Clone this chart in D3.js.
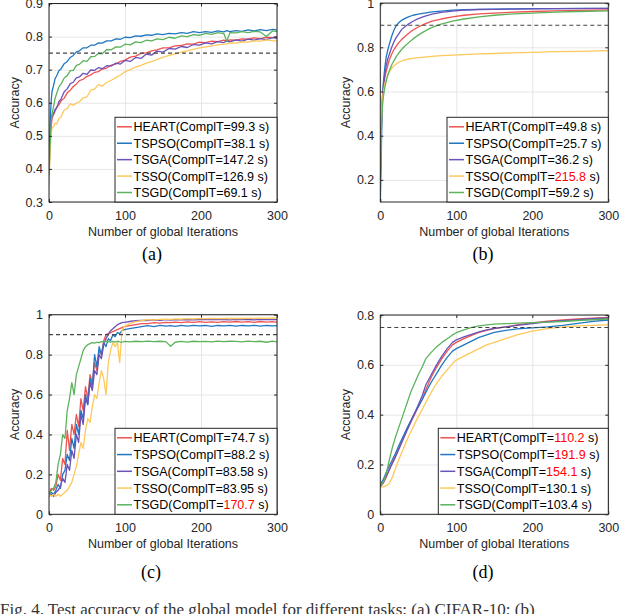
<!DOCTYPE html>
<html lang="en">
<head>
<meta charset="utf-8">
<title>Accuracy vs global iterations</title>
<script src="https://cdn.jsdelivr.net/npm/d3@7"></script>
<style>
  * { margin: 0; padding: 0; }
  body { background: #fff; }
  svg { display: block; }
  text { font-family: "Liberation Sans", Arial, Helvetica, sans-serif; }
  .serif { font-family: "Liberation Serif", "Times New Roman", serif; }
</style>
</head>
<body>
<div id="chart"></div>
<script>
// ---- data ----
var methods = ["HEART", "TSPSO", "TSGA", "TSSO", "TSGD"];
var colors = ["#ef5350", "#2277c2", "#6a52b8", "#fec85a", "#5cb35c"];

// panel (a)
var iterA = [0,1,2,3,4,6,8,10,13,16,20,24,28,32,36,40,45,50,55,60,65,70,76,82,88,94,100,107,114,121,128,135,142,150,158,166,174,182,190,198,206,214,222,230,234,238,246,254,262,270,278,286,294,300];
var heartA = [0.38,0.45,0.50,0.53,0.552,0.564,0.574,0.587,0.593,0.606,0.614,0.630,0.638,0.649,0.657,0.667,0.671,0.680,0.684,0.692,0.694,0.702,0.705,0.714,0.717,0.725,0.729,0.738,0.741,0.749,0.751,0.757,0.760,0.766,0.766,0.772,0.773,0.778,0.777,0.783,0.782,0.786,0.785,0.789,0.787,0.790,0.789,0.793,0.792,0.796,0.794,0.798,0.797,0.800];
var tspsoA = [0.36,0.50,0.57,0.61,0.634,0.652,0.673,0.681,0.697,0.703,0.718,0.725,0.737,0.743,0.754,0.757,0.766,0.766,0.774,0.774,0.781,0.780,0.787,0.787,0.793,0.792,0.798,0.797,0.802,0.801,0.805,0.804,0.808,0.806,0.810,0.808,0.812,0.810,0.815,0.812,0.815,0.813,0.817,0.814,0.818,0.815,0.818,0.816,0.820,0.817,0.821,0.818,0.822,0.820];
var tsgaA = [0.40,0.47,0.52,0.55,0.562,0.568,0.580,0.583,0.603,0.612,0.633,0.642,0.658,0.662,0.675,0.678,0.689,0.686,0.699,0.698,0.706,0.703,0.712,0.711,0.720,0.717,0.728,0.725,0.737,0.734,0.747,0.744,0.756,0.753,0.764,0.762,0.770,0.767,0.776,0.774,0.781,0.778,0.785,0.782,0.787,0.784,0.790,0.786,0.792,0.789,0.794,0.791,0.797,0.795];
var tssoA = [0.345,0.42,0.48,0.51,0.524,0.528,0.538,0.536,0.552,0.558,0.578,0.582,0.597,0.592,0.599,0.603,0.615,0.618,0.638,0.641,0.655,0.650,0.662,0.668,0.676,0.684,0.694,0.700,0.708,0.713,0.720,0.724,0.731,0.737,0.743,0.748,0.753,0.757,0.761,0.766,0.769,0.772,0.775,0.777,0.778,0.781,0.780,0.784,0.783,0.787,0.786,0.790,0.788,0.786];
var tsgdA = [0.38,0.45,0.50,0.54,0.568,0.588,0.613,0.627,0.648,0.657,0.675,0.682,0.697,0.698,0.713,0.716,0.727,0.725,0.739,0.740,0.749,0.748,0.761,0.760,0.769,0.768,0.777,0.775,0.784,0.782,0.789,0.787,0.793,0.791,0.798,0.795,0.802,0.800,0.806,0.804,0.810,0.807,0.812,0.809,0.786,0.812,0.811,0.815,0.812,0.816,0.814,0.800,0.817,0.815];
var timesA = ["99.3", "38.1", "147.2", "126.9", "69.1"];
var hotA = [false, false, false, false, false];
var yTicksA = [0.3, 0.4, 0.5, 0.6, 0.7, 0.8, 0.9];

// panel (b)
var iterB = [0,1,2,3,4,6,8,10,12,15,18,21,24,28,32,37,43,50,58,68,80,95,110,130,150,175,200,230,260,300];
var heartB = [0.28,0.42,0.52,0.58,0.615,0.665,0.695,0.72,0.745,0.77,0.79,0.805,0.82,0.835,0.848,0.862,0.878,0.892,0.905,0.918,0.928,0.938,0.945,0.951,0.955,0.959,0.962,0.965,0.967,0.969];
var tspsoB = [0.10,0.25,0.45,0.58,0.64,0.71,0.76,0.79,0.815,0.85,0.878,0.898,0.91,0.922,0.93,0.938,0.945,0.95,0.955,0.96,0.964,0.968,0.97,0.972,0.973,0.974,0.975,0.975,0.976,0.976];
var tsgaB = [0.20,0.38,0.50,0.58,0.62,0.68,0.72,0.75,0.77,0.80,0.825,0.845,0.86,0.88,0.892,0.905,0.918,0.93,0.94,0.95,0.958,0.964,0.968,0.971,0.972,0.973,0.974,0.975,0.975,0.976];
var tssoB = [0.25,0.42,0.52,0.57,0.60,0.635,0.66,0.678,0.69,0.705,0.716,0.725,0.732,0.738,0.743,0.747,0.75,0.753,0.756,0.759,0.762,0.765,0.767,0.77,0.772,0.775,0.777,0.78,0.782,0.785];
var tsgdB = [0.22,0.38,0.48,0.54,0.575,0.62,0.65,0.675,0.695,0.72,0.74,0.758,0.772,0.79,0.805,0.82,0.838,0.855,0.872,0.89,0.905,0.918,0.928,0.938,0.945,0.951,0.955,0.959,0.962,0.965];
var timesB = ["49.8", "25.7", "36.2", "215.8", "59.2"];
var hotB = [false, false, false, true, false];
var yTicksB = [0.2, 0.4, 0.6, 0.8, 1];

// panel (c)
var iterC = [0,3,6,9,12,15,18,21,24,27,30,33,36,39,42,45,48,51,54,57,60,63,66,69,72,75,78,81,84,87,90,93,96,99,106,114,122,130,138,146,154,160,166,174,182,190,198,206,214,222,230,238,246,254,262,270,278,286,294,300];
var heartC = [0.10,0.13,0.12,0.14,0.20,0.17,0.28,0.25,0.42,0.32,0.45,0.40,0.50,0.44,0.58,0.52,0.64,0.58,0.70,0.66,0.76,0.72,0.82,0.80,0.87,0.90,0.905,0.91,0.915,0.92,0.925,0.93,0.935,0.94,0.945,0.95,0.955,0.955,0.96,0.958,0.962,0.96,0.963,0.96,0.964,0.962,0.965,0.962,0.964,0.962,0.965,0.963,0.966,0.963,0.965,0.962,0.966,0.963,0.965,0.962];
var tspsoC = [0.10,0.11,0.10,0.12,0.15,0.13,0.20,0.22,0.30,0.27,0.38,0.33,0.45,0.40,0.52,0.48,0.60,0.55,0.68,0.64,0.80,0.74,0.84,0.80,0.86,0.84,0.88,0.87,0.90,0.89,0.91,0.905,0.92,0.925,0.93,0.935,0.94,0.945,0.94,0.946,0.943,0.945,0.942,0.946,0.943,0.947,0.944,0.946,0.942,0.946,0.944,0.947,0.943,0.946,0.944,0.947,0.943,0.946,0.944,0.945];
var tsgaC = [0.09,0.10,0.09,0.11,0.12,0.14,0.18,0.16,0.25,0.22,0.32,0.28,0.40,0.36,0.50,0.45,0.58,0.55,0.66,0.62,0.72,0.70,0.80,0.78,0.85,0.88,0.90,0.92,0.93,0.94,0.95,0.955,0.96,0.962,0.966,0.97,0.972,0.971,0.974,0.972,0.975,0.973,0.975,0.974,0.976,0.974,0.976,0.975,0.977,0.975,0.976,0.974,0.977,0.975,0.976,0.974,0.977,0.975,0.976,0.975];
var tssoC = [0.10,0.09,0.10,0.09,0.10,0.09,0.10,0.11,0.12,0.14,0.16,0.20,0.24,0.30,0.36,0.33,0.42,0.48,0.46,0.54,0.60,0.58,0.66,0.72,0.68,0.60,0.76,0.82,0.86,0.84,0.86,0.76,0.92,0.94,0.955,0.965,0.97,0.975,0.974,0.977,0.978,0.977,0.979,0.978,0.98,0.979,0.981,0.98,0.981,0.98,0.982,0.981,0.982,0.981,0.983,0.982,0.983,0.982,0.984,0.983];
var tsgdC = [0.10,0.12,0.13,0.16,0.25,0.30,0.40,0.38,0.52,0.58,0.66,0.60,0.70,0.74,0.78,0.82,0.84,0.85,0.855,0.86,0.858,0.862,0.86,0.865,0.862,0.868,0.865,0.862,0.866,0.863,0.867,0.864,0.862,0.866,0.864,0.867,0.865,0.868,0.865,0.867,0.864,0.842,0.862,0.866,0.863,0.867,0.865,0.866,0.864,0.868,0.865,0.867,0.866,0.864,0.868,0.865,0.867,0.862,0.868,0.864];
var timesC = ["74.7", "88.2", "83.58", "83.95", "170.7"];
var hotC = [false, false, false, false, true];
var yTicksC = [0, 0.2, 0.4, 0.6, 0.8, 1];

// panel (d)
var iterD = [0,4,8,12,16,20,25,30,35,40,45,50,55,60,67,74,81,88,95,100,110,120,130,140,150,165,180,200,220,240,260,280,300];
var heartD = [0.11,0.125,0.15,0.18,0.21,0.235,0.27,0.305,0.338,0.37,0.40,0.432,0.46,0.50,0.55,0.59,0.625,0.655,0.68,0.69,0.705,0.718,0.73,0.738,0.745,0.752,0.76,0.768,0.775,0.78,0.784,0.787,0.79];
var tspsoD = [0.12,0.14,0.17,0.195,0.22,0.245,0.28,0.312,0.345,0.375,0.405,0.432,0.46,0.49,0.53,0.565,0.60,0.63,0.655,0.665,0.68,0.695,0.71,0.72,0.73,0.738,0.744,0.748,0.752,0.758,0.766,0.774,0.78];
var tsgaD = [0.11,0.13,0.155,0.18,0.205,0.23,0.265,0.30,0.335,0.37,0.405,0.44,0.475,0.52,0.56,0.60,0.635,0.665,0.69,0.70,0.712,0.722,0.732,0.74,0.746,0.752,0.758,0.765,0.772,0.777,0.781,0.785,0.788];
var tssoD = [0.11,0.11,0.115,0.125,0.15,0.185,0.225,0.26,0.298,0.33,0.362,0.392,0.42,0.45,0.49,0.525,0.555,0.58,0.605,0.619,0.635,0.65,0.665,0.68,0.69,0.705,0.72,0.735,0.745,0.752,0.756,0.758,0.76];
var tsgdD = [0.11,0.13,0.165,0.22,0.27,0.31,0.355,0.40,0.445,0.49,0.525,0.56,0.59,0.625,0.65,0.672,0.69,0.705,0.72,0.729,0.74,0.75,0.756,0.76,0.763,0.765,0.767,0.769,0.771,0.774,0.778,0.781,0.784];
var timesD = ["110.2", "191.9", "154.1", "130.1", "103.4"];
var hotD = [true, true, true, false, false];
var yTicksD = [0, 0.2, 0.4, 0.6, 0.8];

var xTicks = [0, 100, 200, 300];
var xLabel = "Number of global Iterations";
var yLabel = "Accuracy";
var figCaption = "Fig. 4.  Test accuracy of the global model for different tasks: (a) CIFAR-10; (b)";

// ---- layout ----
var panels = [
  { tag: "(a)", iters: iterA, series: [heartA, tspsoA, tsgaA, tssoA, tsgdA], times: timesA, hot: hotA,
    yDomain: [0.3, 0.9], yTicks: yTicksA, target: 0.75,
    x0: 49, x1: 277, y0: 3.5, y1: 202, legX: 115, legY: 117.3, capX: 152, capY: 260 },
  { tag: "(b)", iters: iterB, series: [heartB, tspsoB, tsgaB, tssoB, tsgdB], times: timesB, hot: hotB,
    yDomain: [0.1, 1], yTicks: yTicksB, target: 0.9,
    x0: 380.3, x1: 608.3, y0: 3.1, y1: 202, legX: 447, legY: 117.3, capX: 483, capY: 260 },
  { tag: "(c)", iters: iterC, series: [heartC, tspsoC, tsgaC, tssoC, tsgdC], times: timesC, hot: hotC,
    yDomain: [0, 1], yTicks: yTicksC, target: 0.9,
    x0: 49, x1: 277, y0: 314.7, y1: 514.3, legX: 115, legY: 428.3, capX: 151, capY: 578 },
  { tag: "(d)", iters: iterD, series: [heartD, tspsoD, tsgaD, tssoD, tsgdD], times: timesD, hot: hotD,
    yDomain: [0, 0.8], yTicks: yTicksD, target: 0.75,
    x0: 380.3, x1: 608.3, y0: 315, y1: 514.3, legX: 438.3, legY: 428.3, capX: 483, capY: 578 }
];

var W = 640, H = 614;
var svg = d3.select("#chart").append("svg")
    .attr("width", W)
    .attr("height", H);

var fmt = function(d) { return String(+d.toFixed(1)); };

panels.forEach(function(p, pi) {
  var x = d3.scaleLinear().domain([0, 300]).range([p.x0, p.x1]);
  var y = d3.scaleLinear().domain(p.yDomain).range([p.y1, p.y0]);
  var g = svg.append("g");

  // grid
  g.append("g")
      .attr("transform", "translate(0," + p.y1 + ")")
      .call(d3.axisBottom(x).tickValues(xTicks).tickSize(-(p.y1 - p.y0)).tickFormat(""))
      .call(function(s) { s.select(".domain").remove(); s.selectAll("line").attr("stroke", "#e3e3e3").attr("stroke-width", 0.9); });
  g.append("g")
      .attr("transform", "translate(" + p.x0 + ",0)")
      .call(d3.axisLeft(y).tickValues(p.yTicks).tickSize(-(p.x1 - p.x0)).tickFormat(""))
      .call(function(s) { s.select(".domain").remove(); s.selectAll("line").attr("stroke", "#e3e3e3").attr("stroke-width", 0.9); });

  // clip
  var clipId = "clip" + pi;
  svg.append("clipPath").attr("id", clipId).append("rect")
      .attr("x", p.x0).attr("y", p.y0).attr("width", p.x1 - p.x0).attr("height", p.y1 - p.y0);

  var line = d3.line()
      .x(function(d) { return x(d[0]); })
      .y(function(d) { return y(d[1]); });

  var lg = g.append("g").attr("clip-path", "url(#" + clipId + ")");
  p.series.forEach(function(vals, si) {
    lg.append("path")
        .datum(d3.zip(p.iters, vals))
        .attr("fill", "none")
        .attr("stroke", colors[si])
        .attr("stroke-width", 1.3)
        .attr("stroke-linejoin", "round")
        .attr("d", line);
  });

  // target dashed line
  g.append("line")
      .attr("x1", x(0)).attr("x2", x(300))
      .attr("y1", y(p.target)).attr("y2", y(p.target))
      .attr("stroke", "#444").attr("stroke-width", 1.1)
      .attr("stroke-dasharray", "4,3");

  // axes with inward ticks
  var xa = g.append("g")
      .attr("transform", "translate(0," + p.y1 + ")")
      .call(d3.axisBottom(x).tickValues(xTicks).tickSize(-3).tickPadding(9).tickFormat(fmt));
  var xt = g.append("g")
      .attr("transform", "translate(0," + p.y0 + ")")
      .call(d3.axisTop(x).tickValues(xTicks).tickSize(-3).tickFormat(""));
  var ya = g.append("g")
      .attr("transform", "translate(" + p.x0 + ",0)")
      .call(d3.axisLeft(y).tickValues(p.yTicks).tickSize(-3).tickPadding(6).tickFormat(fmt));
  var yr = g.append("g")
      .attr("transform", "translate(" + p.x1 + ",0)")
      .call(d3.axisRight(y).tickValues(p.yTicks).tickSize(-3).tickFormat(""));
  [xa, xt, ya, yr].forEach(function(a) {
    a.select(".domain").remove();
    a.selectAll("line").attr("stroke", "#262626");
    a.selectAll("text").attr("fill", "#262626").attr("font-size", "12.5px")
        .attr("font-family", "'Liberation Sans', Arial, sans-serif");
  });

  g.append("rect")
      .attr("x", p.x0).attr("y", p.y0)
      .attr("width", p.x1 - p.x0).attr("height", p.y1 - p.y0)
      .attr("fill", "none").attr("stroke", "#262626").attr("stroke-width", 1);

  // axis labels
  g.append("text")
      .attr("x", (p.x0 + p.x1) / 2).attr("y", p.y1 + 34)
      .attr("text-anchor", "middle").attr("font-size", "12.5px").attr("fill", "#262626")
      .text(xLabel);
  g.append("text")
      .attr("transform", "translate(" + (p.x0 - 30) + "," + ((p.y0 + p.y1) / 2) + ") rotate(-90)")
      .attr("text-anchor", "middle").attr("font-size", "12.5px").attr("fill", "#262626")
      .text(yLabel);

  // legend
  var legW = p.x1 - p.legX, legH = p.y1 - p.legY;
  var leg = g.append("g").attr("transform", "translate(" + p.legX + "," + p.legY + ")");
  leg.append("rect")
      .attr("width", legW).attr("height", legH)
      .attr("fill", "#fff").attr("stroke", "#262626").attr("stroke-width", 1);
  var step = (legH - 19) / 4;
  methods.forEach(function(m, i) {
    var cy = 9.5 + i * step;
    leg.append("line")
        .attr("x1", 2).attr("x2", 17).attr("y1", cy).attr("y2", cy)
        .attr("stroke", colors[i]).attr("stroke-width", 1.5);
    var t = leg.append("text")
        .attr("x", 18.5).attr("y", cy).attr("dy", "0.36em")
        .attr("font-size", "12.5px").attr("fill", "#000");
    t.append("tspan").text(m + "(ComplT=");
    t.append("tspan").attr("fill", p.hot[i] ? "#ff0000" : "#000").text(p.times[i]);
    t.append("tspan").text(" s)");
  });

  // sub caption
  svg.append("text")
      .attr("class", "serif")
      .attr("x", p.capX).attr("y", p.capY)
      .attr("text-anchor", "middle").attr("font-size", "18px").attr("fill", "#000")
      .text(p.tag);
});

svg.append("text")
    .attr("class", "serif")
    .attr("x", 0).attr("y", 615)
    .attr("font-size", "17px").attr("fill", "#333")
    .text(figCaption);
</script>
</body>
</html>
